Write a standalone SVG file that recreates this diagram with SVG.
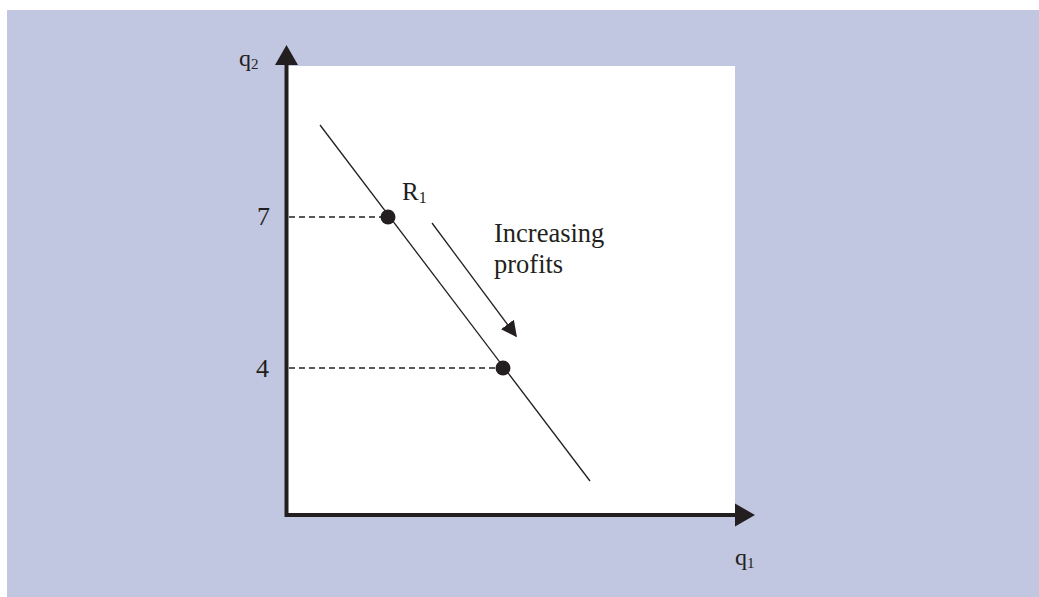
<svg xmlns="http://www.w3.org/2000/svg" width="1039" height="597" viewBox="0 0 1039 597">
<style>
.t{font-family:"Liberation Serif","Times New Roman",serif;fill:#231f20}
.axis{stroke:#231f20;stroke-width:4;fill:none}
.dash{stroke:#231f20;stroke-width:1.5;stroke-dasharray:6,4;fill:none}
.thin{stroke:#231f20;stroke-width:1.3;fill:none}
.dot{fill:#231f20}
</style>
<defs>
<marker id="ah" viewBox="0 0 10 10" refX="9" refY="5" markerWidth="16" markerHeight="16" markerUnits="userSpaceOnUse" orient="auto">
<path d="M0,0 L10,5 L0,10 z" fill="#231f20"/>
</marker>
</defs>
<rect x="7" y="10" width="1032" height="587" fill="#c2c7e1"/>
<rect x="286" y="66" width="449" height="449" fill="#ffffff"/>
<g id="axes">
<polyline class="axis" points="286.5,64 286.5,515 735,515"/>
<polygon points="286.5,45 275,65 298,65" fill="#231f20"/>
<polygon points="755,515 735,503.5 735,526.5" fill="#231f20"/>
<text class="t" x="239" y="66" font-size="24">q<tspan font-size="15" dy="3">2</tspan></text>
<text class="t" x="735" y="565" font-size="24">q<tspan font-size="15" dy="3">1</tspan></text>
<text class="t" x="257" y="225" font-size="26">7</text>
<text class="t" x="256" y="377" font-size="26">4</text>
</g>
<g id="connectors">
<line class="dash" x1="289" y1="217" x2="388" y2="217"/>
<line class="dash" x1="289" y1="368" x2="503" y2="368"/>
<line class="thin" x1="320" y1="125" x2="590" y2="481"/>
<line class="thin" x1="432" y1="223" x2="516" y2="336" marker-end="url(#ah)"/>
</g>
<g id="R1">
<circle class="dot" cx="388" cy="217" r="7.5"/>
<text class="t" x="402" y="200" font-size="25">R<tspan font-size="16" dy="3">1</tspan></text>
</g>
<g id="P2">
<circle class="dot" cx="503" cy="368" r="7.5"/>
</g>
<g id="label">
<text class="t" x="494" y="242" font-size="26.5">Increasing</text>
<text class="t" x="494" y="273" font-size="26.5">profits</text>
</g>
</svg>
